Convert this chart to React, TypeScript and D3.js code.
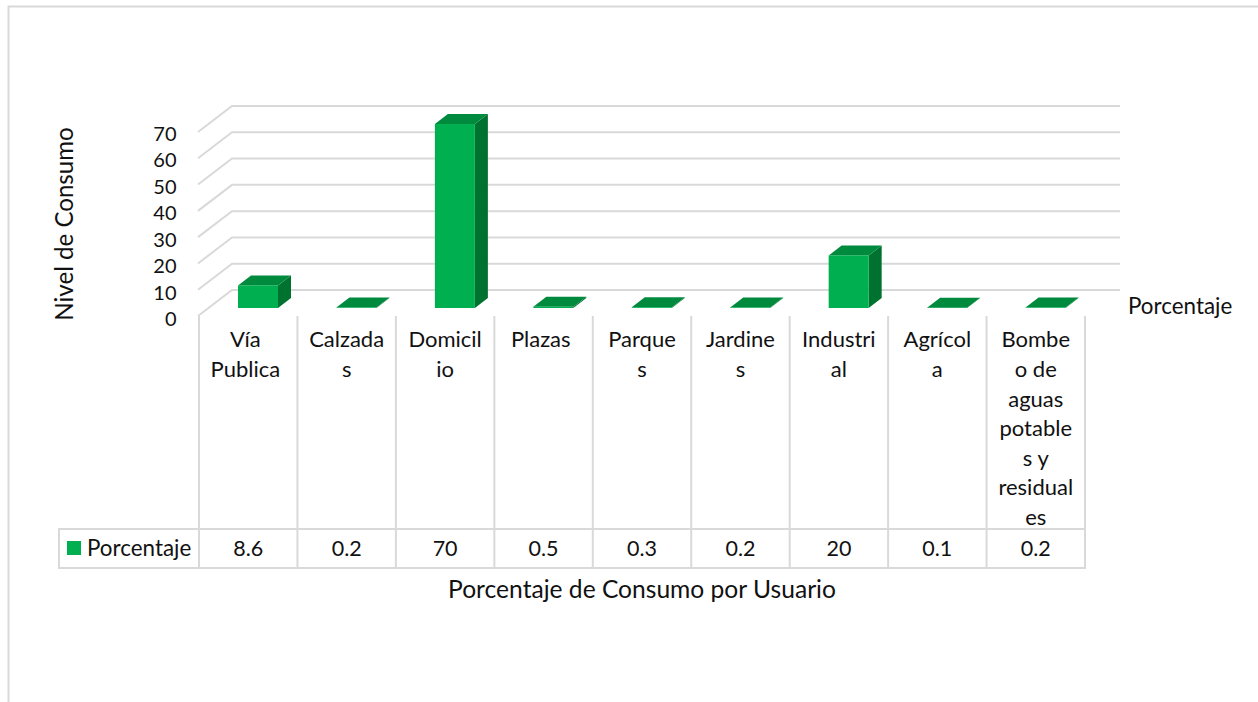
import React from "react";
import * as d3 from "d3";

const categories: string[][] = [
  ["Vía ", "Publica "],
  ["Calzada", "s"],
  ["Domicil", "io"],
  ["Plazas "],
  ["Parque", "s"],
  ["Jardine", "s"],
  ["Industri", "al"],
  ["Agrícol", "a"],
  ["Bombe", "o de", "aguas", "potable", "s y", "residual", "es"],
];
const values = [8.6, 0.2, 70, 0.5, 0.3, 0.2, 20, 0.1, 0.2];
const valueLabels = ["8.6", "0.2", "70", "0.5", "0.3", "0.2", "20", "0.1", "0.2"];
const ticks = [0, 10, 20, 30, 40, 50, 60, 70];
const seriesName = "Porcentaje";
const xTitle = "Porcentaje de Consumo por Usuario";
const yTitle = "Nivel de Consumo";

const FONT = "Lato, 'Open Sans', sans-serif";
const GRID = "#d9d9d9";
const TEXT = "#111111";
const FRONT = "#00b050";
const SIDE = "#00722f";
const TOP = "#008a3e";

export default function App() {
  const y = d3.scaleLinear().domain([0, 70]).range([316, 132]);
  const yLabel = d3.scaleLinear().domain([0, 70]).range([319, 133.5]);
  const x = d3.scaleBand<number>().domain(d3.range(values.length)).range([199, 1085]);
  const depthX = 34;
  const depthY = 26;
  const barDX = 39;
  const barW = 40;
  const barShiftY = 8;
  const barDepthX = 13;
  const barDepthY = 10;
  const line = d3.line();
  const tableTop = 529;
  const tableBottom = 568;
  const fs = 22;

  return (
    <svg
      width={1258}
      height={702}
      style={{ position: "absolute", left: 0, top: 0, background: "#fff" }}
      fontFamily={FONT}
    >
      <path d="M8.5 702V6.5H1258" fill="none" stroke={GRID} strokeWidth={2} />

      {ticks.map((t) => (
        <g key={t}>
          <path
            d={line([
              [198, y(t)],
              [198 + depthX, y(t) - depthY],
              [1120, y(t) - depthY],
            ]) as string}
            fill="none"
            stroke={GRID}
            strokeWidth={2}
          />
          <text x={176.5} y={yLabel(t)} dy="0.36em" textAnchor="end" fontSize={20} fill={TEXT}>
            {t}
          </text>
        </g>
      ))}

      {values.map((v, i) => {
        const x0 = (x(i) as number) + barDX;
        const x1 = x0 + barW;
        const yb = y(0) - barShiftY;
        const yt = y(v) - barShiftY;
        return (
          <g key={i}>
            <path
              d={line([[x1, yb], [x1 + barDepthX, yb - barDepthY], [x1 + barDepthX, yt - barDepthY], [x1, yt]]) + "Z"}
              fill={SIDE}
            />
            <path
              d={line([[x0, yt], [x0 + barDepthX, yt - barDepthY], [x1 + barDepthX, yt - barDepthY], [x1, yt]]) + "Z"}
              fill={TOP}
            />
            <rect x={x0} y={yt} width={barW} height={yb - yt} fill={FRONT} />
          </g>
        );
      })}

      <text x={1128} y={306} dy="0.36em" fontSize={22.4} fill={TEXT}>
        {seriesName}
      </text>

      {/* data table */}
      <rect x={59} y={tableTop} width={1085 - 59} height={tableBottom - tableTop} fill="none" stroke={GRID} strokeWidth={2} />
      {d3.range(values.length + 1).map((i) => {
        const lx = i === values.length ? 1085 : (x(i) as number);
        return <line key={i} x1={lx} x2={lx} y1={316} y2={tableBottom} stroke={GRID} strokeWidth={2} />;
      })}
      <rect x={67} y={541} width={14} height={14} fill={FRONT} />
      <text x={87} y={548} dy="0.36em" fontSize={22.4} fill={TEXT}>
        {seriesName}
      </text>
      {categories.map((lines, i) => {
        const cx = (x(i) as number) + x.bandwidth() / 2;
        return (
          <g key={i} textAnchor="middle" fontSize={fs} fill={TEXT}>
            {lines.map((l, j) => (
              <text key={j} x={cx} y={339.5 + j * 29.6} dy="0.36em" style={{ whiteSpace: "pre" }}>
                {l}
              </text>
            ))}
            <text x={cx} y={548} dy="0.36em" fontSize={21.5}>
              {valueLabels[i]}
            </text>
          </g>
        );
      })}

      <text x={642} y={589} dy="0.36em" textAnchor="middle" fontSize={24.6} fill={TEXT}>
        {xTitle}
      </text>
      <text
        transform="translate(64,224) rotate(-90)"
        dy="0.36em"
        textAnchor="middle"
        fontSize={24.1}
        fill={TEXT}
      >
        {yTitle}
      </text>
    </svg>
  );
}
